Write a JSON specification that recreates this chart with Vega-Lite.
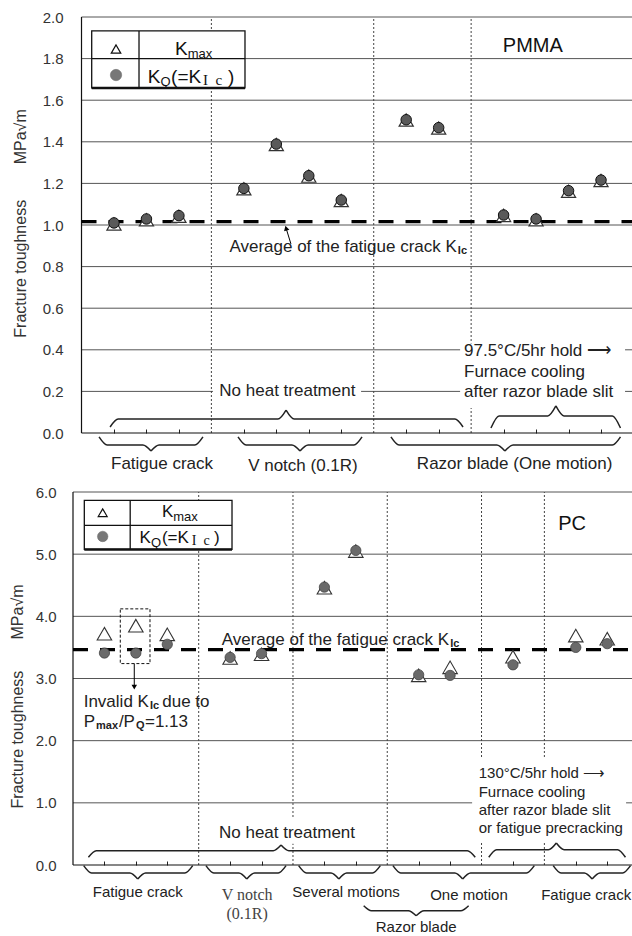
{
  "$schema": "https://vega.github.io/schema/vega-lite/v6.json",
  "background": "white",
  "padding": {"left": 9, "top": 10, "right": 0, "bottom": 0},
  "autosize": {"type": "pad"},
  "bounds": "flush",
  "spacing": 59,
  "config": {
    "view": {"stroke": null},
    "font": "Liberation Sans",
    "axisX": {"labels": false, "domain": false, "grid": false, "ticks": true, "tickSize": -4, "tickColor": "#222", "tickWidth": 1},
    "axisY": {"domain": false, "ticks": false, "grid": false, "labelFont": "Liberation Sans", "labelFontSize": 15, "labelColor": "#333", "titleFont": "Liberation Sans", "titleFontSize": 16, "titleFontWeight": "normal", "titleColor": "#333", "titleAngle": 270, "titleBaseline": "middle", "titleAlign": "center"}
  },
  "vconcat": [
    {
      "width": 560,
      "height": 416,
      "layer": [
        {
          "data": {"values": [{"v": 0.2}, {"v": 0.4}, {"v": 0.6}, {"v": 0.8}, {"v": 1.0}, {"v": 1.2}, {"v": 1.4}, {"v": 1.6}, {"v": 1.8}, {"v": 2.0}]},
          "mark": {"type": "rule", "color": "#555", "strokeWidth": 1},
          "encoding": {
            "y": {"field": "v", "type": "quantitative", "scale": {"domain": [0, 2], "nice": false, "zero": false},
                  "axis": {"title": "Fracture toughness\u00a0\u00a0\u00a0\u00a0\u00a0\u00a0\u00a0\u00a0MPa√m", "values": [0, 0.2, 0.4, 0.6, 0.8, 1, 1.2, 1.4, 1.6, 1.8, 2], "format": ".1f", "labelPadding": 10, "titleX": -53, "titleY": 206}},
            "x": {"datum": 0, "type": "quantitative", "scale": {"domain": [-0.262, 16.985], "nice": false, "zero": false},
                  "axis": {"title": null, "values": [1, 2, 3, 5, 6, 7, 8, 10, 11, 13, 14, 15, 16]}},
            "x2": {"datum": 16.985}
          }
        },
        {
          "data": {"values": [{"v": 4}, {"v": 9}, {"v": 12}]},
          "mark": {"type": "rule", "color": "#444", "strokeWidth": 1, "strokeDash": [2, 2]},
          "encoding": {"x": {"field": "v", "type": "quantitative"}, "y": {"datum": 0}, "y2": {"datum": 2}}
        },
        {
          "data": {"values": [{"xa": 4.05, "xb": 8.61, "ya": 0.17, "yb": 0.23}, {"xa": 11.66, "xb": 16.74, "ya": 0.12, "yb": 0.43}]},
          "mark": {"type": "rect", "color": "white"},
          "encoding": {"x": {"field": "xa", "type": "quantitative"}, "x2": {"field": "xb"}, "y": {"field": "ya", "type": "quantitative"}, "y2": {"field": "yb"}}
        },
        {
          "data": {"values": [{"xa": 0, "xb": 16.985, "ya": 0, "yb": 0}, {"xa": 0, "xb": 0, "ya": 0, "yb": 2}]},
          "mark": {"type": "rule", "color": "#111", "strokeWidth": 1.2},
          "encoding": {"x": {"field": "xa", "type": "quantitative"}, "x2": {"field": "xb"}, "y": {"field": "ya", "type": "quantitative"}, "y2": {"field": "yb"}}
        },
        {
          "data": {"values": [{"v": 1.016}]},
          "mark": {"type": "rule", "color": "#000", "strokeWidth": 3.3, "strokeDash": [15, 12]},
          "encoding": {"y": {"field": "v", "type": "quantitative"}, "x": {"datum": 0}, "x2": {"datum": 16.985}}
        },
        {
          "data": {"values": [
            {"b": "B1L", "x": 0.54, "y": -0.019}, {"b": "B1L", "x": 0.79, "y": -0.058}, {"b": "B1L", "x": 1.89, "y": -0.058}, {"b": "B1L", "x": 2.14, "y": -0.087},
            {"b": "B1R", "x": 2.14, "y": -0.087}, {"b": "B1R", "x": 2.39, "y": -0.058}, {"b": "B1R", "x": 3.49, "y": -0.058}, {"b": "B1R", "x": 3.74, "y": -0.019},
            {"b": "B2L", "x": 4.82, "y": -0.019}, {"b": "B2L", "x": 5.07, "y": -0.058}, {"b": "B2L", "x": 6.48, "y": -0.058}, {"b": "B2L", "x": 6.73, "y": -0.087},
            {"b": "B2R", "x": 6.73, "y": -0.087}, {"b": "B2R", "x": 6.98, "y": -0.058}, {"b": "B2R", "x": 8.39, "y": -0.058}, {"b": "B2R", "x": 8.64, "y": -0.019},
            {"b": "B3L", "x": 9.53, "y": -0.019}, {"b": "B3L", "x": 9.78, "y": -0.058}, {"b": "B3L", "x": 12.79, "y": -0.058}, {"b": "B3L", "x": 13.04, "y": -0.087},
            {"b": "B3R", "x": 13.04, "y": -0.087}, {"b": "B3R", "x": 13.29, "y": -0.058}, {"b": "B3R", "x": 16.35, "y": -0.058}, {"b": "B3R", "x": 16.6, "y": -0.019},
            {"b": "B4L", "x": 0.88, "y": 0.029}, {"b": "B4L", "x": 1.13, "y": 0.067}, {"b": "B4L", "x": 6.05, "y": 0.067}, {"b": "B4L", "x": 6.3, "y": 0.11},
            {"b": "B4R", "x": 6.3, "y": 0.11}, {"b": "B4R", "x": 6.55, "y": 0.067}, {"b": "B4R", "x": 11.5, "y": 0.067}, {"b": "B4R", "x": 11.75, "y": 0.029},
            {"b": "B5L", "x": 12.61, "y": 0.024}, {"b": "B5L", "x": 12.86, "y": 0.082}, {"b": "B5L", "x": 14.36, "y": 0.082}, {"b": "B5L", "x": 14.61, "y": 0.13},
            {"b": "B5R", "x": 14.61, "y": 0.13}, {"b": "B5R", "x": 14.86, "y": 0.082}, {"b": "B5R", "x": 16.35, "y": 0.082}, {"b": "B5R", "x": 16.6, "y": 0.024}
          ]},
          "mark": {"type": "line", "color": "#222", "strokeWidth": 1.5, "interpolate": "monotone"},
          "encoding": {"x": {"field": "x", "type": "quantitative"}, "y": {"field": "y", "type": "quantitative"}, "detail": {"field": "b"}}
        },
        {
          "data": {"values": [
            {"s": 1, "kmax": 1.005, "kq": 1.01}, {"s": 2, "kmax": 1.025, "kq": 1.029}, {"s": 3, "kmax": 1.042, "kq": 1.045},
            {"s": 5, "kmax": 1.174, "kq": 1.176}, {"s": 6, "kmax": 1.387, "kq": 1.389}, {"s": 7, "kmax": 1.235, "kq": 1.237}, {"s": 8, "kmax": 1.118, "kq": 1.12},
            {"s": 10, "kmax": 1.505, "kq": 1.506}, {"s": 11, "kmax": 1.466, "kq": 1.468},
            {"s": 13, "kmax": 1.046, "kq": 1.048}, {"s": 14, "kmax": 1.025, "kq": 1.029}, {"s": 15, "kmax": 1.162, "kq": 1.165}, {"s": 16, "kmax": 1.214, "kq": 1.216}
          ]},
          "layer": [
            {"mark": {"type": "point", "shape": "triangle-up", "filled": true, "fill": "white", "stroke": "#333", "strokeWidth": 1.2, "size": 200, "opacity": 1},
             "encoding": {"x": {"field": "s", "type": "quantitative"}, "y": {"field": "kmax", "type": "quantitative"}}},
            {"mark": {"type": "point", "shape": "circle", "filled": true, "fill": "#5a5a5a", "stroke": "#111", "strokeWidth": 1, "size": 110, "opacity": 1},
             "encoding": {"x": {"field": "s", "type": "quantitative"}, "y": {"field": "kq", "type": "quantitative"}}}
          ]
        },
        {
          "data": {"values": [{"xa": 6.45, "ya": 0.909, "xb": 6.31, "yb": 0.98}]},
          "mark": {"type": "rule", "color": "#000", "strokeWidth": 1},
          "encoding": {"x": {"field": "xa", "type": "quantitative"}, "x2": {"field": "xb"}, "y": {"field": "ya", "type": "quantitative"}, "y2": {"field": "yb"}}
        },
        {
          "data": {"values": [{"x": 6.3, "y": 0.985}]},
          "mark": {"type": "point", "shape": "triangle-up", "filled": true, "color": "#000", "size": 30, "angle": -16, "opacity": 1},
          "encoding": {"x": {"field": "x", "type": "quantitative"}, "y": {"field": "y", "type": "quantitative"}}
        },
        {
          "data": {"values": [{"xa": 0.314, "xb": 5.035, "ya": 1.659, "yb": 1.933}]},
          "mark": {"type": "rect", "fill": "white", "stroke": "#111", "strokeWidth": 1.3},
          "encoding": {"x": {"field": "xa", "type": "quantitative"}, "x2": {"field": "xb"}, "y": {"field": "ya", "type": "quantitative"}, "y2": {"field": "yb"}}
        },
        {
          "data": {"values": [{"xa": 1.771, "xb": 1.771, "ya": 1.659, "yb": 1.933}, {"xa": 0.314, "xb": 5.035, "ya": 1.8, "yb": 1.8}]},
          "mark": {"type": "rule", "color": "#111", "strokeWidth": 1.3},
          "encoding": {"x": {"field": "xa", "type": "quantitative"}, "x2": {"field": "xb"}, "y": {"field": "ya", "type": "quantitative"}, "y2": {"field": "yb"}}
        },
        {
          "data": {"values": [{"xa": 0.314, "xb": 5.035, "ya": 1.659, "yb": 1.659}]},
          "mark": {"type": "rule", "color": "#111", "strokeWidth": 2.6},
          "encoding": {"x": {"field": "xa", "type": "quantitative"}, "x2": {"field": "xb"}, "y": {"field": "ya", "type": "quantitative"}, "y2": {"field": "yb"}}
        },
        {
          "data": {"values": [{"x": 1.063, "y": 1.846}]},
          "mark": {"type": "point", "shape": "triangle-up", "filled": false, "stroke": "#111", "strokeWidth": 1.2, "size": 90, "opacity": 1},
          "encoding": {"x": {"field": "x", "type": "quantitative"}, "y": {"field": "y", "type": "quantitative"}}
        },
        {
          "data": {"values": [{"x": 1.063, "y": 1.721}]},
          "mark": {"type": "point", "shape": "circle", "filled": true, "fill": "#777", "stroke": "#666", "strokeWidth": 0.5, "size": 130, "opacity": 1},
          "encoding": {"x": {"field": "x", "type": "quantitative"}, "y": {"field": "y", "type": "quantitative"}}
        },
        {
          "data": {"values": [
            {"x": 2.48, "y": -0.149, "t": "Fatigue crack"},
            {"x": 6.82, "y": -0.157, "t": "V notch (0.1R)"},
            {"x": 13.34, "y": -0.149, "t": "Razor blade (One motion)"},
            {"x": 6.34, "y": 0.2, "t": "No heat treatment"}
          ]},
          "mark": {"type": "text", "font": "Liberation Sans", "fontSize": 17, "align": "center", "baseline": "middle", "color": "#222"},
          "encoding": {"x": {"field": "x", "type": "quantitative"}, "y": {"field": "y", "type": "quantitative"}, "text": {"field": "t"}}
        },
        {
          "data": {"values": [
            {"x": 11.78, "y": 0.394, "t": "97.5°C/5hr hold ⟶"},
            {"x": 11.78, "y": 0.293, "t": "Furnace cooling"},
            {"x": 11.78, "y": 0.197, "t": "after razor blade slit"}
          ]},
          "mark": {"type": "text", "font": "Liberation Sans", "fontSize": 17, "align": "left", "baseline": "middle", "color": "#222"},
          "encoding": {"x": {"field": "x", "type": "quantitative"}, "y": {"field": "y", "type": "quantitative"}, "text": {"field": "t"}}
        },
        {
          "data": {"values": [{"x": 11.56, "y": 0.894, "t": "Average of the fatigue crack K"}]},
          "mark": {"type": "text", "font": "Liberation Sans", "fontSize": 17, "align": "right", "baseline": "middle", "color": "#222"},
          "encoding": {"x": {"field": "x", "type": "quantitative"}, "y": {"field": "y", "type": "quantitative"}, "text": {"field": "t"}}
        },
        {
          "data": {"values": [{"x": 11.56, "y": 0.894, "t": "Ic"}]},
          "mark": {"type": "text", "font": "Liberation Sans", "fontSize": 11, "fontWeight": "bold", "align": "left", "baseline": "middle", "dy": 4, "dx": 1, "color": "#222"},
          "encoding": {"x": {"field": "x", "type": "quantitative"}, "y": {"field": "y", "type": "quantitative"}, "text": {"field": "t"}}
        },
        {
          "data": {"values": [{"x": 13.9, "y": 1.862, "t": "PMMA"}]},
          "mark": {"type": "text", "font": "Liberation Sans", "fontSize": 20, "align": "center", "baseline": "middle", "color": "#111"},
          "encoding": {"x": {"field": "x", "type": "quantitative"}, "y": {"field": "y", "type": "quantitative"}, "text": {"field": "t"}}
        },
        {
          "data": {"values": [{"x": 3.27, "y": 1.846, "t": "K"}, {"x": 2.43, "y": 1.71, "t": "K"}]},
          "mark": {"type": "text", "font": "Liberation Sans", "fontSize": 19, "align": "right", "baseline": "middle", "color": "#111"},
          "encoding": {"x": {"field": "x", "type": "quantitative"}, "y": {"field": "y", "type": "quantitative"}, "text": {"field": "t"}}
        },
        {
          "data": {"values": [{"x": 3.27, "y": 1.846, "t": "max"}, {"x": 2.43, "y": 1.71, "t": "Q"}]},
          "mark": {"type": "text", "font": "Liberation Sans", "fontSize": 13, "align": "left", "baseline": "middle", "dy": 5, "color": "#111"},
          "encoding": {"x": {"field": "x", "type": "quantitative"}, "y": {"field": "y", "type": "quantitative"}, "text": {"field": "t"}}
        },
        {
          "data": {"values": [{"x": 2.76, "y": 1.71, "t": "(=K"}, {"x": 4.51, "y": 1.71, "t": ")"}]},
          "mark": {"type": "text", "font": "Liberation Sans", "fontSize": 19, "align": "left", "baseline": "middle", "color": "#111"},
          "encoding": {"x": {"field": "x", "type": "quantitative"}, "y": {"field": "y", "type": "quantitative"}, "text": {"field": "t"}}
        },
        {
          "data": {"values": [{"x": 3.74, "y": 1.71, "t": "I\u00a0\u00a0c"}]},
          "mark": {"type": "text", "font": "Liberation Serif", "fontSize": 15, "align": "left", "baseline": "middle", "dy": 3, "color": "#111"},
          "encoding": {"x": {"field": "x", "type": "quantitative"}, "y": {"field": "y", "type": "quantitative"}, "text": {"field": "t"}}
        }
      ]
    },
    {
      "width": 560,
      "height": 373,
      "layer": [
        {
          "data": {"values": [{"v": 1}, {"v": 2}, {"v": 3}, {"v": 4}, {"v": 5}, {"v": 6}]},
          "mark": {"type": "rule", "color": "#555", "strokeWidth": 1},
          "encoding": {
            "y": {"field": "v", "type": "quantitative", "scale": {"domain": [0, 6], "nice": false, "zero": false},
                  "axis": {"title": "Fracture toughness\u00a0\u00a0\u00a0\u00a0\u00a0\u00a0\u00a0MPa√m", "values": [0, 1, 2, 3, 4, 5, 6], "format": ".1f", "labelPadding": 17, "titleX": -55.3, "titleY": 204}},
            "x": {"datum": 0, "type": "quantitative", "scale": {"domain": [0, 17.82], "nice": false, "zero": false},
                  "axis": {"title": null, "values": [1, 2, 3, 5, 6, 8, 9, 11, 12, 14, 16, 17]}},
            "x2": {"datum": 17.82}
          }
        },
        {
          "data": {"values": [{"v": 4}, {"v": 7}, {"v": 10}, {"v": 13}, {"v": 15}]},
          "mark": {"type": "rule", "color": "#444", "strokeWidth": 1, "strokeDash": [2, 2]},
          "encoding": {"x": {"field": "v", "type": "quantitative"}, "y": {"datum": 0}, "y2": {"datum": 6}}
        },
        {
          "data": {"values": [{"xa": 4.5, "xb": 9.15, "ya": 0.34, "yb": 0.77}, {"xa": 12.7, "xb": 17.6, "ya": 0.36, "yb": 1.72}]},
          "mark": {"type": "rect", "color": "white"},
          "encoding": {"x": {"field": "xa", "type": "quantitative"}, "x2": {"field": "xb"}, "y": {"field": "ya", "type": "quantitative"}, "y2": {"field": "yb"}}
        },
        {
          "data": {"values": [{"xa": 0, "xb": 17.82, "ya": 0, "yb": 0}, {"xa": 0, "xb": 0, "ya": 0, "yb": 6}]},
          "mark": {"type": "rule", "color": "#111", "strokeWidth": 1.2},
          "encoding": {"x": {"field": "xa", "type": "quantitative"}, "x2": {"field": "xb"}, "y": {"field": "ya", "type": "quantitative"}, "y2": {"field": "yb"}}
        },
        {
          "data": {"values": [{"v": 3.466}]},
          "mark": {"type": "rule", "color": "#000", "strokeWidth": 3.3, "strokeDash": [15, 12]},
          "encoding": {"y": {"field": "v", "type": "quantitative"}, "x": {"datum": 0}, "x2": {"datum": 17.82}}
        },
        {
          "data": {"values": [
            {"b": "C1L", "x": 0.34, "y": -0.011}, {"b": "C1L", "x": 0.59, "y": -0.129}, {"b": "C1L", "x": 1.81, "y": -0.129}, {"b": "C1L", "x": 2.06, "y": -0.225},
            {"b": "C1R", "x": 2.06, "y": -0.225}, {"b": "C1R", "x": 2.31, "y": -0.129}, {"b": "C1R", "x": 3.56, "y": -0.129}, {"b": "C1R", "x": 3.81, "y": -0.011},
            {"b": "C2L", "x": 4.23, "y": -0.011}, {"b": "C2L", "x": 4.48, "y": -0.129}, {"b": "C2L", "x": 5.28, "y": -0.129}, {"b": "C2L", "x": 5.53, "y": -0.225},
            {"b": "C2R", "x": 5.53, "y": -0.225}, {"b": "C2R", "x": 5.78, "y": -0.129}, {"b": "C2R", "x": 6.53, "y": -0.129}, {"b": "C2R", "x": 6.78, "y": -0.011},
            {"b": "C3L", "x": 7.18, "y": -0.011}, {"b": "C3L", "x": 7.43, "y": -0.129}, {"b": "C3L", "x": 8.21, "y": -0.129}, {"b": "C3L", "x": 8.46, "y": -0.225},
            {"b": "C3R", "x": 8.46, "y": -0.225}, {"b": "C3R", "x": 8.71, "y": -0.129}, {"b": "C3R", "x": 9.53, "y": -0.129}, {"b": "C3R", "x": 9.78, "y": -0.011},
            {"b": "C4L", "x": 10.18, "y": -0.011}, {"b": "C4L", "x": 10.43, "y": -0.129}, {"b": "C4L", "x": 12.15, "y": -0.129}, {"b": "C4L", "x": 12.4, "y": -0.225},
            {"b": "C4R", "x": 12.4, "y": -0.225}, {"b": "C4R", "x": 12.65, "y": -0.129}, {"b": "C4R", "x": 14.43, "y": -0.129}, {"b": "C4R", "x": 14.68, "y": -0.011},
            {"b": "C5L", "x": 15.28, "y": -0.011}, {"b": "C5L", "x": 15.53, "y": -0.129}, {"b": "C5L", "x": 16.27, "y": -0.129}, {"b": "C5L", "x": 16.52, "y": -0.225},
            {"b": "C5R", "x": 16.52, "y": -0.225}, {"b": "C5R", "x": 16.77, "y": -0.129}, {"b": "C5R", "x": 17.49, "y": -0.129}, {"b": "C5R", "x": 17.74, "y": -0.011},
            {"b": "C6L", "x": 9.25, "y": -0.655}, {"b": "C6L", "x": 9.5, "y": -0.736}, {"b": "C6L", "x": 10.67, "y": -0.736}, {"b": "C6L", "x": 10.92, "y": -0.816},
            {"b": "C6R", "x": 10.92, "y": -0.816}, {"b": "C6R", "x": 11.17, "y": -0.736}, {"b": "C6R", "x": 12.34, "y": -0.736}, {"b": "C6R", "x": 12.59, "y": -0.655},
            {"b": "C7L", "x": 0.49, "y": 0.124}, {"b": "C7L", "x": 0.74, "y": 0.23}, {"b": "C7L", "x": 6.37, "y": 0.23}, {"b": "C7L", "x": 6.62, "y": 0.322},
            {"b": "C7R", "x": 6.62, "y": 0.322}, {"b": "C7R", "x": 6.87, "y": 0.23}, {"b": "C7R", "x": 12.55, "y": 0.23}, {"b": "C7R", "x": 12.8, "y": 0.124},
            {"b": "C8L", "x": 13.23, "y": 0.124}, {"b": "C8L", "x": 13.48, "y": 0.246}, {"b": "C8L", "x": 15.13, "y": 0.246}, {"b": "C8L", "x": 15.38, "y": 0.354},
            {"b": "C8R", "x": 15.38, "y": 0.354}, {"b": "C8R", "x": 15.63, "y": 0.246}, {"b": "C8R", "x": 17.33, "y": 0.246}, {"b": "C8R", "x": 17.58, "y": 0.124}
          ]},
          "mark": {"type": "line", "color": "#222", "strokeWidth": 1.5, "interpolate": "monotone"},
          "encoding": {"x": {"field": "x", "type": "quantitative"}, "y": {"field": "y", "type": "quantitative"}, "detail": {"field": "b"}}
        },
        {
          "data": {"values": [
            {"s": 1, "kmax": 3.72, "kq": 3.41}, {"s": 2, "kmax": 3.85, "kq": 3.41}, {"s": 3, "kmax": 3.71, "kq": 3.55},
            {"s": 5, "kmax": 3.33, "kq": 3.34}, {"s": 6, "kmax": 3.39, "kq": 3.4},
            {"s": 8, "kmax": 4.46, "kq": 4.47}, {"s": 9, "kmax": 5.05, "kq": 5.06},
            {"s": 11, "kmax": 3.05, "kq": 3.06}, {"s": 12, "kmax": 3.18, "kq": 3.05},
            {"s": 14, "kmax": 3.35, "kq": 3.22},
            {"s": 16, "kmax": 3.69, "kq": 3.5}, {"s": 17, "kmax": 3.64, "kq": 3.56}
          ]},
          "layer": [
            {"mark": {"type": "point", "shape": "triangle-up", "filled": true, "fill": "white", "stroke": "#333", "strokeWidth": 1.1, "size": 210, "opacity": 1},
             "encoding": {"x": {"field": "s", "type": "quantitative"}, "y": {"field": "kmax", "type": "quantitative"}}},
            {"mark": {"type": "point", "shape": "circle", "filled": true, "fill": "#6a6a6a", "stroke": "#444", "strokeWidth": 0.8, "size": 105, "opacity": 1},
             "encoding": {"x": {"field": "s", "type": "quantitative"}, "y": {"field": "kq", "type": "quantitative"}}}
          ]
        },
        {
          "data": {"values": [{"xa": 1.505, "xb": 2.45, "ya": 3.24, "yb": 4.12}]},
          "mark": {"type": "rect", "fill": null, "fillOpacity": 0, "stroke": "#111", "strokeWidth": 1, "strokeDash": [3, 2]},
          "encoding": {"x": {"field": "xa", "type": "quantitative"}, "x2": {"field": "xb"}, "y": {"field": "ya", "type": "quantitative"}, "y2": {"field": "yb"}}
        },
        {
          "data": {"values": [{"xa": 1.95, "ya": 3.24, "xb": 1.95, "yb": 2.88}]},
          "mark": {"type": "rule", "color": "#000", "strokeWidth": 1},
          "encoding": {"x": {"field": "xa", "type": "quantitative"}, "x2": {"field": "xb"}, "y": {"field": "ya", "type": "quantitative"}, "y2": {"field": "yb"}}
        },
        {
          "data": {"values": [{"x": 1.95, "y": 2.86}]},
          "mark": {"type": "point", "shape": "triangle-down", "filled": true, "color": "#000", "size": 30, "opacity": 1},
          "encoding": {"x": {"field": "x", "type": "quantitative"}, "y": {"field": "y", "type": "quantitative"}}
        },
        {
          "data": {"values": [{"xa": 0.36, "xb": 5.06, "ya": 5.076, "yb": 5.864}]},
          "mark": {"type": "rect", "fill": "white", "stroke": "#111", "strokeWidth": 1.3},
          "encoding": {"x": {"field": "xa", "type": "quantitative"}, "x2": {"field": "xb"}, "y": {"field": "ya", "type": "quantitative"}, "y2": {"field": "yb"}}
        },
        {
          "data": {"values": [{"xa": 1.82, "xb": 1.82, "ya": 5.076, "yb": 5.864}, {"xa": 0.36, "xb": 5.06, "ya": 5.462, "yb": 5.462}]},
          "mark": {"type": "rule", "color": "#111", "strokeWidth": 1.3},
          "encoding": {"x": {"field": "xa", "type": "quantitative"}, "x2": {"field": "xb"}, "y": {"field": "ya", "type": "quantitative"}, "y2": {"field": "yb"}}
        },
        {
          "data": {"values": [{"xa": 0.36, "xb": 5.06, "ya": 5.076, "yb": 5.076}]},
          "mark": {"type": "rule", "color": "#111", "strokeWidth": 2.6},
          "encoding": {"x": {"field": "xa", "type": "quantitative"}, "x2": {"field": "xb"}, "y": {"field": "ya", "type": "quantitative"}, "y2": {"field": "yb"}}
        },
        {
          "data": {"values": [{"x": 0.945, "y": 5.667}]},
          "mark": {"type": "point", "shape": "triangle-up", "filled": false, "stroke": "#111", "strokeWidth": 1.2, "size": 80, "opacity": 1},
          "encoding": {"x": {"field": "x", "type": "quantitative"}, "y": {"field": "y", "type": "quantitative"}}
        },
        {
          "data": {"values": [{"x": 0.945, "y": 5.285}]},
          "mark": {"type": "point", "shape": "circle", "filled": true, "fill": "#777", "stroke": "#666", "strokeWidth": 0.5, "size": 110, "opacity": 1},
          "encoding": {"x": {"field": "x", "type": "quantitative"}, "y": {"field": "y", "type": "quantitative"}}
        },
        {
          "data": {"values": [
            {"x": 2.06, "y": -0.435, "t": "Fatigue crack"},
            {"x": 8.69, "y": -0.435, "t": "Several motions"},
            {"x": 12.6, "y": -0.483, "t": "One motion"},
            {"x": 16.33, "y": -0.483, "t": "Fatigue crack"},
            {"x": 10.92, "y": -0.998, "t": "Razor blade"}
          ]},
          "mark": {"type": "text", "font": "Liberation Sans", "fontSize": 15, "align": "center", "baseline": "middle", "color": "#222"},
          "encoding": {"x": {"field": "x", "type": "quantitative"}, "y": {"field": "y", "type": "quantitative"}, "text": {"field": "t"}}
        },
        {
          "data": {"values": [{"x": 5.54, "y": -0.483, "t": "V notch"}, {"x": 5.54, "y": -0.789, "t": "(0.1R)"}]},
          "mark": {"type": "text", "font": "Liberation Serif", "fontSize": 16, "align": "center", "baseline": "middle", "color": "#444"},
          "encoding": {"x": {"field": "x", "type": "quantitative"}, "y": {"field": "y", "type": "quantitative"}, "text": {"field": "t"}}
        },
        {
          "data": {"values": [{"x": 6.81, "y": 0.515, "t": "No heat treatment"}]},
          "mark": {"type": "text", "font": "Liberation Sans", "fontSize": 17, "align": "center", "baseline": "middle", "color": "#222"},
          "encoding": {"x": {"field": "x", "type": "quantitative"}, "y": {"field": "y", "type": "quantitative"}, "text": {"field": "t"}}
        },
        {
          "data": {"values": [
            {"x": 12.91, "y": 1.476, "t": "130°C/5hr hold ⟶"},
            {"x": 12.91, "y": 1.18, "t": "Furnace cooling"},
            {"x": 12.91, "y": 0.885, "t": "after razor blade slit"},
            {"x": 12.91, "y": 0.596, "t": "or fatigue precracking"}
          ]},
          "mark": {"type": "text", "font": "Liberation Sans", "fontSize": 15, "align": "left", "baseline": "middle", "color": "#222"},
          "encoding": {"x": {"field": "x", "type": "quantitative"}, "y": {"field": "y", "type": "quantitative"}, "text": {"field": "t"}}
        },
        {
          "data": {"values": [
            {"x": 11.97, "y": 3.62, "t": "Average of the fatigue crack K"},
            {"x": 2.415, "y": 2.63, "t": "Invalid K"},
            {"x": 0.7, "y": 2.3, "t": "P"}
          ]},
          "mark": {"type": "text", "font": "Liberation Sans", "fontSize": 17, "align": "right", "baseline": "middle", "color": "#222"},
          "encoding": {"x": {"field": "x", "type": "quantitative"}, "y": {"field": "y", "type": "quantitative"}, "text": {"field": "t"}}
        },
        {
          "data": {"values": [
            {"x": 11.97, "y": 3.62, "t": "Ic"},
            {"x": 2.415, "y": 2.63, "t": "Ic"},
            {"x": 0.7, "y": 2.3, "t": "max"},
            {"x": 1.97, "y": 2.3, "t": "Q"}
          ]},
          "mark": {"type": "text", "font": "Liberation Sans", "fontSize": 11, "fontWeight": "bold", "align": "left", "baseline": "middle", "dy": 4, "dx": 1, "color": "#222"},
          "encoding": {"x": {"field": "x", "type": "quantitative"}, "y": {"field": "y", "type": "quantitative"}, "text": {"field": "t"}}
        },
        {
          "data": {"values": [
            {"x": 2.84, "y": 2.63, "t": "due to"},
            {"x": 1.46, "y": 2.3, "t": "/P"},
            {"x": 2.29, "y": 2.3, "t": "=1.13"}
          ]},
          "mark": {"type": "text", "font": "Liberation Sans", "fontSize": 17, "align": "left", "baseline": "middle", "color": "#222"},
          "encoding": {"x": {"field": "x", "type": "quantitative"}, "y": {"field": "y", "type": "quantitative"}, "text": {"field": "t"}}
        },
        {
          "data": {"values": [{"x": 15.88, "y": 5.49, "t": "PC"}]},
          "mark": {"type": "text", "font": "Liberation Sans", "fontSize": 20, "align": "center", "baseline": "middle", "color": "#111"},
          "encoding": {"x": {"field": "x", "type": "quantitative"}, "y": {"field": "y", "type": "quantitative"}, "text": {"field": "t"}}
        },
        {
          "data": {"values": [{"x": 3.19, "y": 5.678, "t": "K"}, {"x": 2.48, "y": 5.26, "t": "K"}]},
          "mark": {"type": "text", "font": "Liberation Sans", "fontSize": 17, "align": "right", "baseline": "middle", "color": "#111"},
          "encoding": {"x": {"field": "x", "type": "quantitative"}, "y": {"field": "y", "type": "quantitative"}, "text": {"field": "t"}}
        },
        {
          "data": {"values": [{"x": 3.19, "y": 5.678, "t": "max"}, {"x": 2.48, "y": 5.26, "t": "Q"}]},
          "mark": {"type": "text", "font": "Liberation Sans", "fontSize": 13, "align": "left", "baseline": "middle", "dy": 5, "color": "#111"},
          "encoding": {"x": {"field": "x", "type": "quantitative"}, "y": {"field": "y", "type": "quantitative"}, "text": {"field": "t"}}
        },
        {
          "data": {"values": [{"x": 2.83, "y": 5.26, "t": "(=K"}, {"x": 4.49, "y": 5.26, "t": ")"}]},
          "mark": {"type": "text", "font": "Liberation Sans", "fontSize": 17, "align": "left", "baseline": "middle", "color": "#111"},
          "encoding": {"x": {"field": "x", "type": "quantitative"}, "y": {"field": "y", "type": "quantitative"}, "text": {"field": "t"}}
        },
        {
          "data": {"values": [{"x": 3.78, "y": 5.26, "t": "I\u00a0\u00a0c"}]},
          "mark": {"type": "text", "font": "Liberation Serif", "fontSize": 14, "align": "left", "baseline": "middle", "dy": 3, "color": "#111"},
          "encoding": {"x": {"field": "x", "type": "quantitative"}, "y": {"field": "y", "type": "quantitative"}, "text": {"field": "t"}}
        }
      ]
    }
  ]
}
